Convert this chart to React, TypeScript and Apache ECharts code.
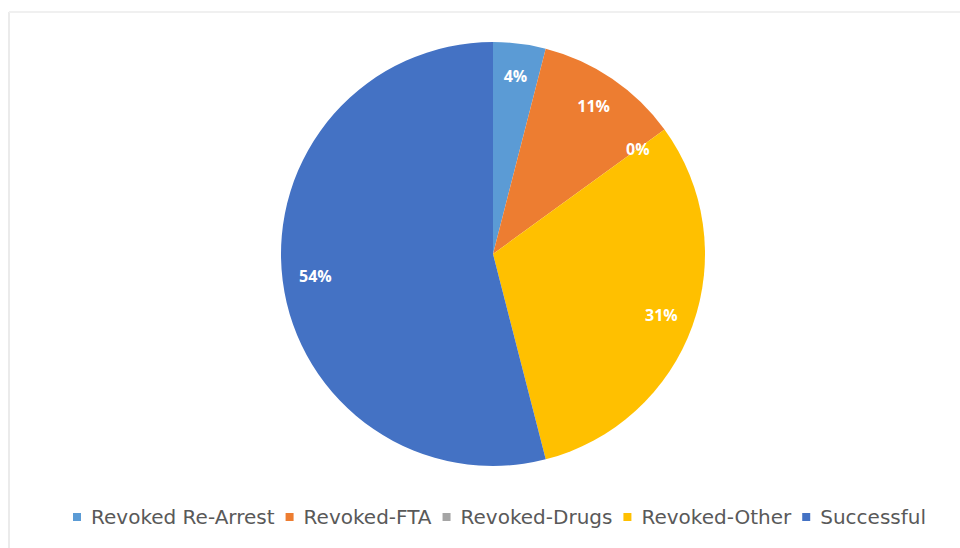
import React, { useEffect, useRef } from "react";
import * as echarts from "echarts";

const categories = ["Revoked Re-Arrest", "Revoked-FTA", "Revoked-Drugs", "Revoked-Other", "Successful"];
const values = [4, 11, 0, 31, 54];
const colors = ["#5B9BD5", "#ED7D31", "#A5A5A5", "#FFC000", "#4472C4"];

export default function App() {
  const ref = useRef<HTMLDivElement>(null);
  useEffect(() => {
    document.body.style.margin = "0";
    const chart = echarts.init(ref.current!, null, { renderer: "svg" });
    const data = categories.map((name, i) => ({ name, value: values[i], itemStyle: { color: colors[i] } }));
    chart.setOption({
      animation: false,
      backgroundColor: "#ffffff",
      graphic: [
        { type: "line", shape: { x1: 9, y1: 12, x2: 9, y2: 548 }, style: { stroke: "#ebebeb", lineWidth: 2 }, silent: true },
        { type: "line", shape: { x1: 9, y1: 12, x2: 960, y2: 12 }, style: { stroke: "#f0f0f0", lineWidth: 2 }, silent: true },
      ],
      legend: {
        data: categories,
        bottom: 16,
        left: 68,
        icon: "rect",
        itemWidth: 8,
        itemHeight: 8,
        itemGap: 11,
        textStyle: { color: "#595959", fontSize: 20, fontFamily: "DejaVu Sans", padding: [0, 0, 0, 5] },
      },
      series: [
        {
          type: "pie",
          center: [493, 254],
          radius: [0, 212],
          startAngle: 90,
          clockwise: true,
          label: { show: false },
          labelLine: { show: false },
          emphasis: { disabled: true },
          itemStyle: { borderWidth: 0 },
          data,
        },
        {
          type: "pie",
          center: [493, 254],
          radius: [140, 212],
          startAngle: 90,
          clockwise: true,
          silent: true,
          legendHoverLink: false,
          itemStyle: { color: "transparent", borderWidth: 0 },
          label: {
            show: true,
            position: "inside",
            color: "#ffffff",
            fontWeight: "bold",
            fontSize: 16,
            fontFamily: "Open Sans",
            formatter: (p: any) => p.value + "%",
          },
          labelLine: { show: false },
          data: categories.map((name, i) => ({ name, value: values[i] })),
        },
      ],
    });
    return () => chart.dispose();
  }, []);
  return <div ref={ref} style={{ width: 960, height: 548 }} />;
}
